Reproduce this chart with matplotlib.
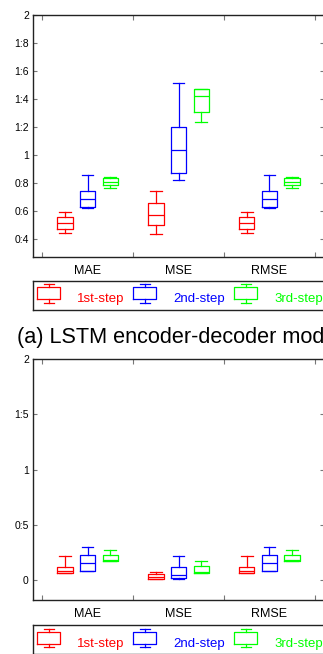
import matplotlib.pyplot as plt
from matplotlib.ticker import FixedLocator, FixedFormatter

plt.rcParams['font.family'] = ['Liberation Sans', 'DejaVu Sans']

metrics = ['MAE', 'MSE', 'RMSE']
steps = ['1st-step', '2nd-step', '3rd-step']
step_colors = ['#ff0000', '#0000ff', '#00ff00']

# box stats per metric: [whisker low, q1, median, q3, whisker high]
lstm_1st = [[0.443, 0.469, 0.514, 0.557, 0.592],
            [0.433, 0.500, 0.573, 0.659, 0.742],
            [0.443, 0.469, 0.514, 0.557, 0.592]]
lstm_2nd = [[0.623, 0.630, 0.685, 0.740, 0.854],
            [0.823, 0.868, 1.032, 1.200, 1.512],
            [0.623, 0.630, 0.685, 0.740, 0.854]]
lstm_3rd = [[0.761, 0.783, 0.804, 0.832, 0.844],
            [1.232, 1.303, 1.419, 1.467, 1.471],
            [0.761, 0.783, 0.804, 0.832, 0.844]]

model_b_1st = [[0.058, 0.065, 0.082, 0.118, 0.212],
               [0.003, 0.006, 0.027, 0.049, 0.067],
               [0.058, 0.065, 0.082, 0.118, 0.212]]
model_b_2nd = [[0.076, 0.082, 0.148, 0.227, 0.294],
               [0.010, 0.013, 0.045, 0.112, 0.212],
               [0.076, 0.082, 0.148, 0.227, 0.294]]
model_b_3rd = [[0.170, 0.172, 0.180, 0.221, 0.269],
               [0.060, 0.061, 0.067, 0.127, 0.170],
               [0.170, 0.172, 0.180, 0.221, 0.269]]

top_yticks = [0.4, 0.6, 0.8, 1.0, 1.2, 1.4, 1.6, 1.8, 2.0]
top_ylabels = ['0:4', '0:6', '0:8', '1', '1:2', '1:4', '1:6', '1:8', '2']
bot_yticks = [0, 0.5, 1.0, 1.5, 2.0]
bot_ylabels = ['0', '0:5', '1', '1:5', '2']

offsets = [-0.25, 0.0, 0.25]
spine_col = '#222222'
tick_col = '#777777'


def draw_panel(ax, series, ylim, yticks, ylabels):
    for k, (data, col) in enumerate(zip(series, step_colors)):
        stats = [dict(whislo=d[0], q1=d[1], med=d[2], q3=d[3], whishi=d[4], fliers=[])
                 for d in data]
        pos = [i + 1 + offsets[k] for i in range(len(metrics))]
        line = dict(color=col, linewidth=0.9)
        ax.bxp(stats, positions=pos, widths=0.17, capwidths=0.13,
               boxprops=line, whiskerprops=line, capprops=line,
               medianprops=line, showfliers=False, manage_ticks=False)
    ax.set_xlim(0.4, 3.6)
    ax.set_ylim(*ylim)
    ax.xaxis.set_major_locator(FixedLocator([1, 2, 3]))
    ax.xaxis.set_major_formatter(FixedFormatter(metrics))
    ax.xaxis.set_minor_locator(FixedLocator([0.5, 1.5, 2.5, 3.5]))
    ax.yaxis.set_major_locator(FixedLocator(yticks))
    ax.yaxis.set_major_formatter(FixedFormatter(ylabels))
    ax.tick_params(axis='x', which='major', length=0, labelsize=9, pad=6)
    ax.tick_params(axis='x', which='minor', direction='in', top=True, bottom=True,
                   length=3.5, width=0.8, color=tick_col)
    ax.tick_params(axis='y', which='major', direction='in', left=True, right=True,
                   length=3, width=0.8, color=tick_col, labelsize=7.5, pad=3)
    for s in ax.spines.values():
        s.set_color(spine_col)
        s.set_linewidth(1.0)


# legend entries: glyph left edge, in legend units (1 unit = 1 px)
glyph_x = [4.6, 100.3, 201.3]


def draw_legend(ax):
    ax.set_xlim(0, 291)
    ax.set_ylim(0, 29)
    ax.set_xticks([])
    ax.set_yticks([])
    for s in ax.spines.values():
        s.set_color(spine_col)
        s.set_linewidth(1.0)
    for x0, name, col in zip(glyph_x, steps, step_colors):
        xc = x0 + 11.5
        lw = 0.9
        ax.plot([x0, x0 + 23, x0 + 23, x0, x0], [10.7, 10.7, 22.7, 22.7, 10.7], color=col, lw=lw)
        ax.plot([xc, xc], [22.7, 25.7], color=col, lw=lw)
        ax.plot([xc, xc], [7.0, 10.7], color=col, lw=lw)
        ax.plot([xc - 5, xc + 5], [25.7, 25.7], color=col, lw=lw)
        ax.plot([xc - 5, xc + 5], [7.0, 7.0], color=col, lw=lw)
        ax.text(x0 + 39.7, 7.7, name, color=col, fontsize=9.5, va='baseline', ha='left')


fig = plt.figure(figsize=(3.23, 6.54), dpi=100)

ax1 = fig.add_axes([0.1022, 0.6075, 0.901, 0.3703])
draw_panel(ax1, [lstm_1st, lstm_2nd, lstm_3rd], (0.274, 2.0), top_yticks, top_ylabels)
leg1 = fig.add_axes([0.1012, 0.526, 0.902, 0.0443])
draw_legend(leg1)

fig.text(0.0526, 0.475, '(a) LSTM encoder-decoder model', fontsize=15.6, va='baseline', ha='left')

ax2 = fig.add_axes([0.1022, 0.0826, 0.901, 0.368])
draw_panel(ax2, [model_b_1st, model_b_2nd, model_b_3rd], (-0.184, 2.0), bot_yticks, bot_ylabels)
leg2 = fig.add_axes([0.1012, -0.0005, 0.902, 0.0443])
draw_legend(leg2)

fig.savefig('out.png', dpi=100)
